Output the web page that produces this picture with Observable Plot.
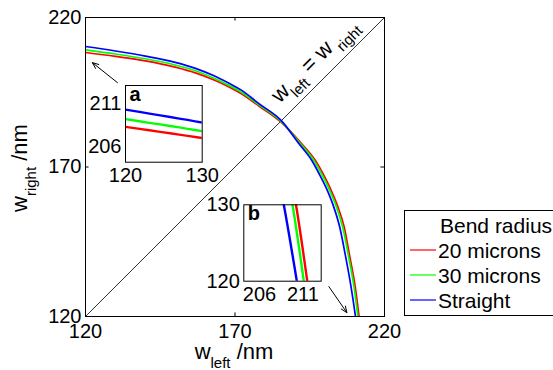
<!DOCTYPE html>
<html><head><meta charset="utf-8">
<script src="https://cdn.jsdelivr.net/npm/d3@7"></script>
<script src="https://cdn.jsdelivr.net/npm/@observablehq/plot@0.6"></script>
<style>
body{margin:0;background:#fff;}
#chart{position:relative;width:553px;height:370px;overflow:hidden;background:#fff;}
#chart > svg{position:absolute;left:0;top:0;}
</style></head><body><div id="chart"></div>
<script>
// ---- data ----
const seriesNames = ["20 microns", "30 microns", "Straight"];
const seriesColors = ["#ff0000", "#00ff00", "#0000ff"];
const legendTitle = "Bend radius";

const wLeft20 = [120, 130, 140, 150, 157, 163, 168, 172, 178, 185.5, 192.1, 197.0, 199.3, 201.8, 204.3, 206.5, 208.4, 210.2, 211.5];
const wRight20 = [208.3, 207.0, 205.5, 203.4, 201.4, 199.1, 196.8, 194.6, 190.4, 184.9, 178, 172, 168, 163, 157, 150, 140, 130, 120];
const wLeft30 = [120, 130, 140, 150, 157, 163, 168, 172, 178, 185.5, 191.7, 196.5, 198.8, 201.3, 203.8, 206.0, 208.0, 209.8, 211.1];
const wRight30 = [209.2, 207.8, 206.2, 204.1, 202.1, 199.7, 197.3, 195.1, 190.8, 185.2, 178, 172, 168, 163, 157, 150, 140, 130, 120];
const wLeftStraight = [120, 130, 140, 150, 157, 163, 168, 172, 178, 185.5, 191.2, 195.8, 198.0, 200.5, 202.9, 205.0, 207.0, 208.8, 210.3];
const wRightStraight = [210.3, 208.8, 207.1, 205.0, 202.9, 200.5, 198.0, 195.8, 191.2, 185.5, 178, 172, 168, 163, 157, 150, 140, 130, 120];

const diagonal = [120, 220];
const mainTicks = [120, 170, 220];
const insetATicksX = [120, 130];
const insetATicksY = [206, 211];
const insetBTicksX = [206, 211];
const insetBTicksY = [120, 130];
const insetADomainX = [120, 130];
const insetADomainY = [204.2, 213.1];
const insetBDomainX = [204.2, 213.1];
const insetBDomainY = [120, 130];

// annotation arrows (data coords): tail -> head
const arrowX1 = [130.7, 201.4];
const arrowY1 = [198.2, 130.0];
const arrowX2 = [122.3, 207.4];
const arrowY2 = [204.9, 121.3];

// ---- build tables ----
const seriesX = [wLeft20, wLeft30, wLeftStraight];
const seriesY = [wRight20, wRight30, wRightStraight];
const table = seriesNames.flatMap((s, i) => seriesX[i].map((x, j) => ({series: s, x, y: seriesY[i][j]})));
const arrows = arrowX1.map((x1, i) => ({x1, y1: arrowY1[i], x2: arrowX2[i], y2: arrowY2[i]}));

const font = "'Liberation Sans', Arial, Helvetica, sans-serif";
const W = 553, H = 370;

function seriesLines(sw, clip) {
  return seriesNames.map((s, i) => Plot.line(table.filter(d => d.series === s), {x: "x", y: "y", stroke: seriesColors[i], strokeWidth: sw, clip, curve: "monotone-x"}));
}

const main = Plot.plot({
  width: W, height: H,
  marginLeft: 85, marginRight: 169, marginTop: 17, marginBottom: 54,
  style: {fontFamily: font, fontSize: "20px", background: "white", color: "black"},
  x: {domain: [120, 220]}, y: {domain: [120, 220]},
  marks: [
    Plot.line(diagonal.map(v => ({v})), {x: "v", y: "v", stroke: "black", strokeWidth: 0.8}),
    ...seriesLines(1.7, true),
    Plot.arrow(arrows, {x1: "x1", y1: "y1", x2: "x2", y2: "y2", stroke: "black", strokeWidth: 1, headLength: 10, headAngle: 45}),
    Plot.ruleX(mainTicks, {y1: 120, y2: 121.2, stroke: "black"}),
    Plot.ruleX(mainTicks, {y1: 218.8, y2: 220, stroke: "black"}),
    Plot.ruleY(mainTicks, {x1: 120, x2: 121.2, stroke: "black"}),
    Plot.ruleY(mainTicks, {x1: 218.8, x2: 220, stroke: "black"}),
    Plot.frame({stroke: "black", strokeWidth: 1}),
    Plot.axisX(mainTicks, {anchor: "bottom", tickSize: 0, tickPadding: 7, fontSize: 20, label: null}),
    Plot.axisY(mainTicks, {anchor: "left", tickSize: 0, tickPadding: 4, fontSize: 20, label: null})
  ]
});

function inset(opts) {
  return Plot.plot({
    width: W, height: H,
    marginLeft: opts.l, marginRight: W - opts.r, marginTop: opts.t, marginBottom: H - opts.b,
    style: {fontFamily: font, fontSize: "20px", background: "transparent", color: "black"},
    x: {domain: opts.dx}, y: {domain: opts.dy},
    marks: [
      Plot.frame({fill: "white", stroke: "none"}),
      ...seriesLines(2.4, true),
      Plot.frame({stroke: "black", strokeWidth: 1}),
      Plot.axisX(opts.tx, {anchor: "bottom", tickSize: 0, tickPadding: 6, fontSize: 20, label: null}),
      Plot.axisY(opts.ty, {anchor: "left", tickSize: 0, tickPadding: 4, fontSize: 20, label: null}),
      Plot.text([opts.name], {frameAnchor: "top-left", dx: 4, dy: 1, lineAnchor: "top", fontWeight: "bold", fontSize: 20})
    ]
  });
}
const insetA = inset({l: 125, r: 201.7, t: 85, b: 161.7, dx: insetADomainX, dy: insetADomainY, tx: insetATicksX, ty: insetATicksY, name: "a"});
const insetB = inset({l: 243.3, r: 320.7, t: 204.3, b: 280.7, dx: insetBDomainX, dy: insetBDomainY, tx: insetBTicksX, ty: insetBTicksY, name: "b"});

const chart = document.getElementById("chart");
chart.appendChild(main);
chart.appendChild(insetA);
chart.appendChild(insetB);

// ---- labels with subscripts ----
const svg = d3.select(main);
const sx = main.scale("x"), sy = main.scale("y");
function subText(g, parts) {
  parts.forEach(p => {
    const t = g.append("tspan").text(p.t);
    if (p.dy) t.attr("dy", p.dy);
    if (p.fs) t.attr("font-size", p.fs);
  });
}
// x label
const xl = svg.append("text").attr("x", 234).attr("y", 359).attr("text-anchor", "middle")
  .attr("font-size", 22).attr("fill", "black").attr("font-family", font);
subText(xl, [{t: "w"}, {t: "left", dy: 9, fs: 15}, {t: " /nm", dy: -9}]);
// y label
const yl = svg.append("text").attr("transform", `translate(27,168) rotate(-90)`).attr("text-anchor", "middle")
  .attr("font-size", 22).attr("fill", "black").attr("font-family", font);
subText(yl, [{t: "w"}, {t: "right", dy: 9, fs: 15}, {t: " /nm", dy: -9}]);
// diagonal label
const dl = svg.append("text").attr("transform", `translate(${sx.apply(198.2)},${sy.apply(204.0)}) rotate(-45)`).attr("text-anchor", "middle")
  .attr("font-size", 22).attr("fill", "black").attr("font-family", font);
subText(dl, [{t: "w"}, {t: "left", dy: 8, fs: 15}, {t: " = w", dy: -8}, {t: " right", dy: 8, fs: 15}]);

// ---- legend ----
const lg = svg.append("g").attr("font-family", font).attr("font-size", 21).attr("text-anchor", "start");
lg.append("rect").attr("x", 404.5).attr("y", 210.5).attr("width", 170).attr("height", 105)
  .attr("fill", "white").attr("stroke", "black").attr("stroke-width", 1);
lg.append("text").attr("x", 440).attr("y", 233).attr("fill", "black").text(legendTitle);
seriesNames.forEach((s, i) => {
  const yb = 258 + i * 25;
  lg.append("line").attr("x1", 410).attr("x2", 436).attr("y1", yb - 8).attr("y2", yb - 8)
    .attr("stroke", seriesColors[i]).attr("stroke-width", 1.2);
  lg.append("text").attr("x", 438).attr("y", yb).attr("fill", "black").text(s);
});
</script></body></html>
